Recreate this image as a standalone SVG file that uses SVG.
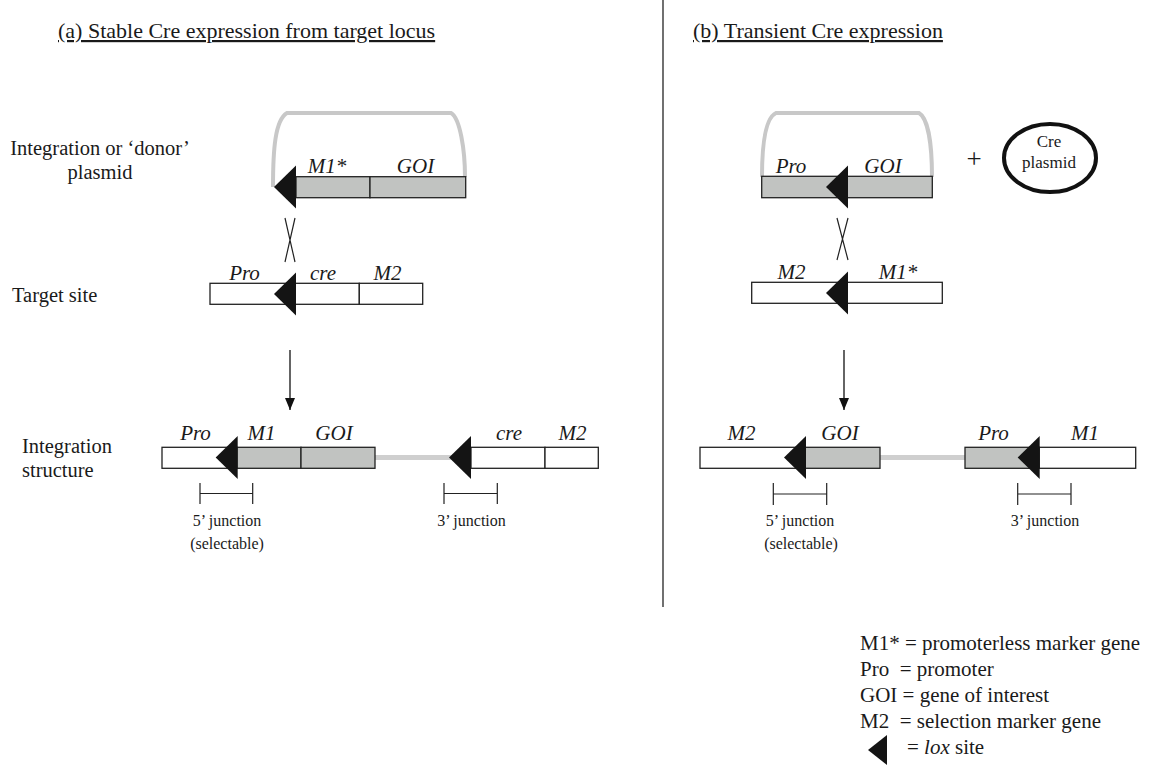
<svg xmlns="http://www.w3.org/2000/svg" xmlns:xlink="http://www.w3.org/1999/xlink" width="1149" height="766" viewBox="0 0 1149 766">
<style>
text{font-family:"Liberation Serif","Times New Roman",serif;fill:#1a1a1a}
.title{font-size:22px;text-decoration:underline}
.lbl{font-size:20.5px}
.gene{font-size:21px;font-style:italic;text-anchor:middle}
.small{font-size:16px;text-anchor:middle}
.leg{font-size:21px;white-space:pre}
.w{fill:#fff;stroke:#222;stroke-width:1.3}
.g{fill:#c1c3c1;stroke:#222;stroke-width:1.3}
.arc{fill:none;stroke:#c8c8c8;stroke-width:4}
.link{stroke:#cfcfcf;stroke-width:5}
.thin{stroke:#222;stroke-width:1.2;fill:none}
.lox{fill:#141414}
</style>
<defs>
<path id="loxT" class="lox" d="M0,0 L22,-21.5 L22,21.5 Z"/>
<marker id="ah" markerWidth="12" markerHeight="10" refX="12" refY="5" orient="auto" markerUnits="userSpaceOnUse" viewBox="0 0 12 10">
<path d="M0,0 L12,5 L0,10 Z" fill="#111"/>
</marker>
</defs>

<g id="titles">
<text class="title" x="58" y="38">(a) Stable Cre expression from target locus</text>
<text class="title" x="693" y="38">(b) Transient Cre expression</text>
</g>
<line x1="663" y1="0" x2="663" y2="607" stroke="#111" stroke-width="1.2"/>

<g id="row-labels">
<text class="lbl" x="100" y="155" text-anchor="middle">Integration or ‘donor’</text>
<text class="lbl" x="100" y="179" text-anchor="middle">plasmid</text>
<text class="lbl" x="12" y="302">Target site</text>
<text class="lbl" x="22" y="453">Integration</text>
<text class="lbl" x="22" y="477">structure</text>
</g>

<!-- Panel a -->
<g id="a-donor">
<path class="arc" d="M273,187 C273,150 275,120 287,113 L451,113 C460,118 465,150 465,177"/>
<rect class="g" x="296" y="176.7" width="74" height="21"/>
<rect class="g" x="370" y="176.7" width="95.7" height="21"/>
<use xlink:href="#loxT" x="274" y="187"/>
<text class="gene" x="327" y="173">M1*</text>
<text class="gene" x="415.5" y="173">GOI</text>
</g>
<g id="a-target">
<rect class="w" x="210" y="283.3" width="149.3" height="21"/>
<rect class="w" x="359.3" y="283.3" width="63.4" height="21"/>
<use xlink:href="#loxT" x="274" y="294"/>
<text class="gene" x="244.5" y="280">Pro</text>
<text class="gene" x="323" y="280">cre</text>
<text class="gene" x="387.5" y="280">M2</text>
</g>
<g id="a-integration">
<line class="link" x1="375" y1="457.5" x2="452" y2="457.5"/>
<rect class="w" x="162" y="447.3" width="75" height="21"/>
<rect class="g" x="237" y="447.3" width="64" height="21"/>
<rect class="g" x="301" y="447.3" width="74" height="21"/>
<use xlink:href="#loxT" x="215.7" y="457.5"/>
<rect class="w" x="471" y="447.3" width="74" height="21"/>
<rect class="w" x="545" y="447.3" width="53.3" height="21"/>
<use xlink:href="#loxT" x="449" y="457.5"/>
<text class="gene" x="195.5" y="440">Pro</text>
<text class="gene" x="261.5" y="440">M1</text>
<text class="gene" x="334" y="440">GOI</text>
<text class="gene" x="509" y="440">cre</text>
<text class="gene" x="572.5" y="440">M2</text>
</g>
<g id="a-junctions">
<path class="thin" d="M200,483 V504 M252.7,483 V504 M200,493.5 H252.7"/>
<path class="thin" d="M444,483 V504 M497.3,483 V504 M444,493.5 H497.3"/>
<text class="small" x="227" y="526">5’ junction</text>
<text class="small" x="227" y="549">(selectable)</text>
<text class="small" x="471.5" y="526">3’ junction</text>
</g>

<!-- Panel b -->
<g id="b-donor">
<path class="arc" d="M762,177 C762,145 765,118 776,113 L919,113 C928,118 932,145 932,177"/>
<rect class="g" x="761.7" y="176.3" width="170.6" height="21.4"/>
<use xlink:href="#loxT" x="826" y="187"/>
<text class="gene" x="791" y="173">Pro</text>
<text class="gene" x="883" y="173">GOI</text>
</g>
<g id="b-plus">
<text x="974" y="168" font-size="27" text-anchor="middle">+</text>
</g>
<g id="b-creplasmid">
<ellipse cx="1050" cy="158" rx="46" ry="34" fill="none" stroke="#111" stroke-width="4"/>
<text x="1049" y="147" font-size="17" text-anchor="middle">Cre</text>
<text x="1049" y="168" font-size="17" text-anchor="middle">plasmid</text>
</g>
<g id="b-target">
<rect class="w" x="751.7" y="282.3" width="190.6" height="21"/>
<use xlink:href="#loxT" x="826" y="293"/>
<text class="gene" x="791.5" y="279">M2</text>
<text class="gene" x="898" y="279">M1*</text>
</g>
<g id="b-integration">
<line class="link" x1="880" y1="457.5" x2="965" y2="457.5"/>
<rect class="w" x="700" y="447.3" width="105" height="21"/>
<rect class="g" x="805" y="447.3" width="75" height="21"/>
<use xlink:href="#loxT" x="784" y="457.5"/>
<rect class="g" x="965" y="447.3" width="74.3" height="21"/>
<rect class="w" x="1039.3" y="447.3" width="96.4" height="21"/>
<use xlink:href="#loxT" x="1017.7" y="457.5"/>
<text class="gene" x="741.5" y="440">M2</text>
<text class="gene" x="840" y="440">GOI</text>
<text class="gene" x="993.5" y="440">Pro</text>
<text class="gene" x="1085" y="440">M1</text>
</g>
<g id="b-junctions">
<path class="thin" d="M773.3,483 V505 M826.7,483 V505 M773.3,494 H826.7"/>
<path class="thin" d="M1017.7,483 V505 M1071,483 V505 M1017.7,494 H1071"/>
<text class="small" x="800" y="526">5’ junction</text>
<text class="small" x="801" y="549">(selectable)</text>
<text class="small" x="1045" y="526">3’ junction</text>
</g>

<g id="connectors">
<path class="thin" d="M285,218 L295,262 M295,218 L285,262"/>
<path class="thin" d="M837,218 L848,260 M848,218 L837,260"/>
<line x1="290" y1="350" x2="290" y2="410" stroke="#111" stroke-width="1.3" marker-end="url(#ah)"/>
<line x1="844" y1="350" x2="844" y2="410" stroke="#111" stroke-width="1.3" marker-end="url(#ah)"/>
</g>

<g id="legend">
<text class="leg" x="860" y="650">M1* = promoterless marker gene</text>
<text class="leg" x="860" y="676">Pro  = promoter</text>
<text class="leg" x="860" y="702">GOI = gene of interest</text>
<text class="leg" x="860" y="728">M2  = selection marker gene</text>
<path class="lox" d="M868,750 L887,735 L887,765 Z"/>
<text class="leg" x="907" y="754">= <tspan font-style="italic">lox</tspan> site</text>
</g>
</svg>
